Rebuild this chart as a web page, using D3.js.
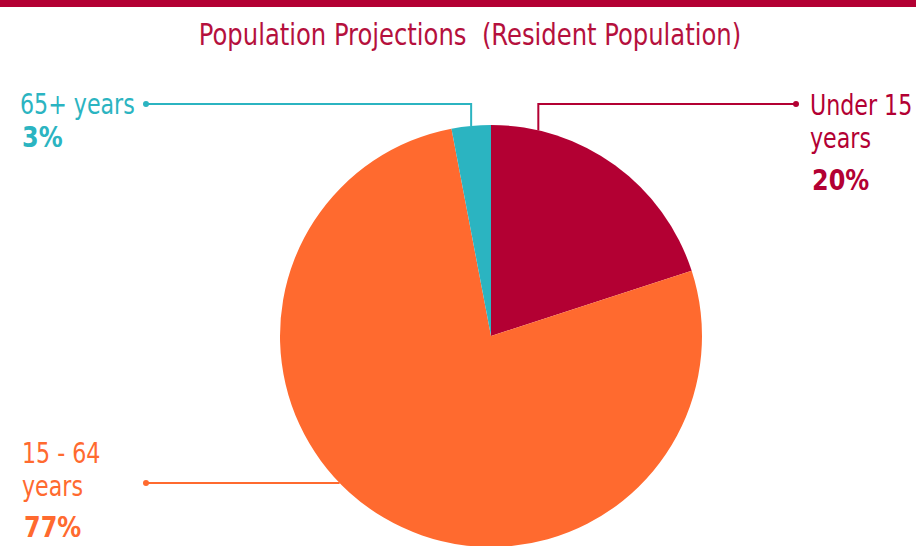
<!DOCTYPE html>
<html>
<head>
<meta charset="utf-8">
<script src="https://cdn.jsdelivr.net/npm/d3@7/dist/d3.min.js"></script>
<style>
  html, body { margin: 0; padding: 0; background: #fff; }
  svg { display: block; font-family: "DejaVu Sans Condensed", "DejaVu Sans", sans-serif; }
</style>
</head>
<body>
<svg id="chart"></svg>
<script>
// data
const categories = ["Under 15 years", "15 - 64 years", "65+ years"];
const shares = [20, 77, 3];
const labelLines = [["Under 15", "years"], ["15 - 64", "years"], ["65+ years"]];
const colors = ["#b30033", "#ff6a2f", "#2bb4c1"];

const width = 916;
const height = 546;
const cx = 491, cy = 336, radius = 211;

const svg = d3.select("#chart")
    .attr("width", width)
    .attr("height", height);

// top band
svg.append("rect")
    .attr("x", 0).attr("y", 0)
    .attr("width", width).attr("height", 7)
    .attr("fill", "#b30033");

// title (narrowed to mimic the condensed original face)
svg.append("g")
    .attr("transform", "translate(470,45) scale(0.9,1)")
    .append("text")
    .attr("text-anchor", "middle")
    .attr("font-size", 30)
    .attr("fill", "#b5103d")
    .attr("xml:space", "preserve")
    .text("Population Projections  (Resident Population)");

const pie = d3.pie().sort(null).value(d => d);
const arcs = pie(shares);
const arc = d3.arc().innerRadius(0).outerRadius(radius);

const g = svg.append("g").attr("transform", `translate(${cx},${cy})`);

g.selectAll("path.slice")
    .data(arcs)
    .join("path")
    .attr("class", "slice")
    .attr("d", arc)
    .attr("fill", (d, i) => colors[i]);

// label layout: where the connector leaves the pie (fraction along the slice),
// elbow and end point, text position and line spacing
const layout = [
    { t: 0.18, kind: "up", elbowY: 104, endX: 796, textX: 810, textY: 115, pctGap: 42 },
    { t: 0.555, kind: "side", endX: 146, textX: 22, textY: 463, pctGap: 41 },
    { t: 0.5, kind: "up", elbowY: 104, endX: 146, textX: 20, textY: 114, pctGap: 33 }
];

const lineH = 33;
const sx = 0.88;

arcs.forEach((a, i) => {
    const L = layout[i];
    const ang = a.startAngle + (a.endAngle - a.startAngle) * L.t;
    const px = cx + radius * Math.sin(ang);
    const py = cy - radius * Math.cos(ang);
    let pts;
    if (L.kind === "up") {
        pts = [[px, py], [px, L.elbowY], [L.endX, L.elbowY]];
    } else {
        pts = [[px, py], [L.endX, py]];
    }
    svg.append("path")
        .attr("d", d3.line()(pts))
        .attr("fill", "none")
        .attr("stroke", colors[i])
        .attr("stroke-width", 2);
    const end = pts[pts.length - 1];
    svg.append("circle")
        .attr("cx", end[0]).attr("cy", end[1])
        .attr("r", 3)
        .attr("fill", colors[i]);

    const lines = labelLines[i];
    lines.forEach((s, k) => {
        svg.append("g")
            .attr("transform", `translate(${L.textX},${L.textY + k * lineH}) scale(${sx},1)`)
            .append("text")
            .attr("fill", colors[i])
            .attr("font-size", 28)
            .text(s);
    });
    const pctY = L.textY + (lines.length - 1) * lineH + L.pctGap;
    svg.append("g")
        .attr("transform", `translate(${L.textX + 2},${pctY}) scale(0.95,1)`)
        .append("text")
        .attr("fill", colors[i])
        .attr("font-size", 28)
        .attr("font-weight", "bold")
        .text(shares[i] + "%");
});
</script>
</body>
</html>
